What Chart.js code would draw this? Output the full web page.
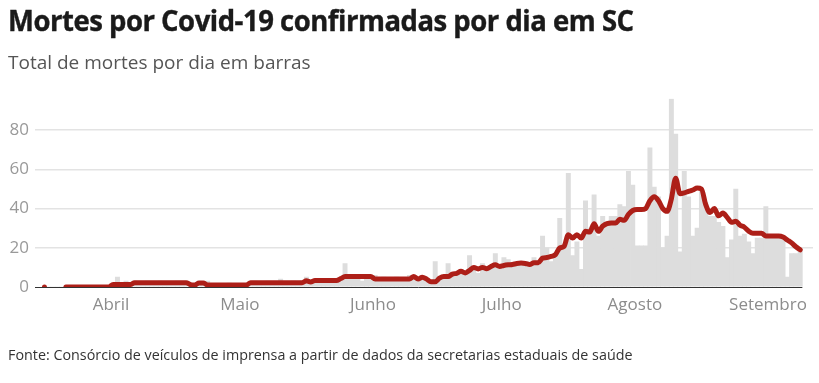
<!DOCTYPE html>
<html>
<head>
<meta charset="utf-8">
<script src="https://cdn.jsdelivr.net/npm/chart.js@4.4.1/dist/chart.umd.min.js"></script>
<style>
  html, body { margin: 0; padding: 0; background: #fff; }
  body { width: 819px; height: 383px; position: relative; overflow: hidden; font-family: "Open Sans", sans-serif; }
  #title { position: absolute; left: 8px; top: 5px; font-size: 29px; line-height: 29px; font-weight: 700; color: #1a1a1a; white-space: nowrap; transform-origin: 0 0; transform: scaleX(0.947); letter-spacing: -0.5px; -webkit-text-stroke: 0.4px #1a1a1a; }
  #subtitle { position: absolute; left: 8px; top: 51px; font-size: 19px; line-height: 22px; color: #555; white-space: nowrap; transform-origin: 0 0; }
  #source { position: absolute; left: 8px; top: 345px; font-size: 15px; line-height: 18px; color: #333; white-space: nowrap; transform-origin: 0 0; transform: scaleX(0.955); }
  #wrap { position: absolute; left: 0; top: 0; width: 819px; height: 383px; }
</style>
</head>
<body>
<div id="wrap"><canvas id="c" width="819" height="383"></canvas></div>
<div id="title">Mortes por Covid-19 confirmadas por dia em SC</div>
<div id="subtitle">Total de mortes por dia em barras</div>
<div id="source">Fonte: Consórcio de veículos de imprensa a partir de dados da secretarias estaduais de saúde</div>
<script>
// ---- data ----
const firstDay = '2020-03-16';
const monthStarts = ['2020-04-01', '2020-05-01', '2020-06-01', '2020-07-01', '2020-08-01', '2020-09-01'];
const monthNames = ['Abril', 'Maio', 'Junho', 'Julho', 'Agosto', 'Setembro'];
const yTicks = [0, 20, 40, 60, 80];

// daily deaths (bars), from 2020-03-16
const deaths = [
  0,0,0,0,0,0,0,0,0,0,0,0,0,0,0,0,
  2,5,1,3,1,3,2,2,3,1,2,3,2,2,1,3,2,2,
  0,1,2,1,3,1,0,1,1,2,0,1,1,1,
  2,3,2,1,3,2,2,4,2,1,3,2,3,
  5,2,3,4,3,2,4,3,4,
  12,4,6,5,3,6,4,
  6,3,5,4,3,5,4,3,6,
  6,4,5,3,2,13,4,5,12,7,
  6,9,8,16,10,7,12,9,11,17,
  10,15,14,12,11,13,13,12,15,11,
  26,20,13,16,35,22,
  58,16,23,9,44,30,47,26,36,33,36,36,42,41,59,52,21,21,21,71,51,46,20,26,
  96,78,18,59,46,26,30,49,43,36,36,33,31,15,24,50,26,27,23,17,25,25,41,25,25,25,25,5,17,17,19
];

// moving average (line), from 2020-03-16
const avg7 = [
  0, null, null, null, null,
  0,0,0,0,0,0,0,0,0,0,0,
  1.3,1.3,1.3,1.3,1.3,
  2.2,2.2,2.2,2.2,2.2,2.2,2.2,2.2,2.2,2.2,2.2,2.2,2.2,
  1.2,1.0,
  2,2,
  1,1,1,1,1,1,1,1,1,1,
  2.2,2.2,2.2,2.2,2.2,2.2,2.2,2.2,2.2,2.2,2.2,2.2,2.2,
  3.2,2.6,
  3.3,3.3,3.3,3.3,3.3,3.3,
  4.3,
  5.3,5.3,5.3,5.3,5.3,5.3,5.3,
  4.1,4.1,4.1,4.1,4.1,4.1,4.1,4.1,4.1,
  5.3,4.1,5,4,2.7,2.7,4.5,5.3,5.3,6.6,
  7,8,7.2,8.5,10,9.2,10,9.3,10.5,11.3,
  10.5,11,11.3,11.5,12,12.2,12,11.5,12.4,12.4,
  14.7,15,15.6,16.5,19.9,20.7,26.7,25,26.7,25,
  28.4,28,32.3,28.4,31,32.3,32.6,32.6,34.5,34,
  37,39,39.5,39.5,40,44,46,44,40,38.6,
  45,55.5,47.6,48,48.8,49.5,50.5,50,42,38,
  40,36.3,37.7,35.5,33,33.5,31.5,30.5,28.5,27.4,
  27.4,27.4,26,26,26,26,25.5,24,22.5,20.5,
  19
];

// ---- helpers ----
const DAY = 86400000;
const epoch = Date.UTC(2020, 2, 1);
function dayNum(s) { const [y, m, d] = s.split('-').map(Number); return (Date.UTC(y, m - 1, d) - epoch) / DAY; }
const d0 = dayNum(firstDay);
// each day drawn in the middle of its own day interval
const barPts = deaths.map((v, i) => ({ x: d0 + i + 0.5, y: v }));
const linePts = avg7.map((v, i) => ({ x: d0 + i + 0.5, y: v }));
const lastX = d0 + deaths.length;

const baseline = {
  id: 'baseline',
  beforeDatasetsDraw(chart) {
    const { ctx, scales: { x, y } } = chart;
    const yy = Math.round(y.getPixelForValue(0)) + 0.5;
    ctx.save();
    ctx.strokeStyle = '#333';
    ctx.lineWidth = 1;
    ctx.beginPath();
    ctx.moveTo(chart.chartArea.left, yy);
    ctx.lineTo(x.getPixelForValue(lastX), yy);
    ctx.stroke();
    ctx.restore();
  }
};

new Chart(document.getElementById('c'), {
  data: {
    datasets: [
      {
        type: 'line', data: linePts, order: 0,
        borderColor: '#ad1f18', borderWidth: 5, borderCapStyle: 'round', borderJoinStyle: 'round',
        cubicInterpolationMode: 'monotone', spanGaps: false,
        pointRadius: (c) => {
          const i = c.dataIndex;
          const prev = i > 0 ? avg7[i - 1] : null, next = i < avg7.length - 1 ? avg7[i + 1] : null;
          return (avg7[i] !== null && prev === null && next === null) ? 2.5 : 0;
        },
        pointBackgroundColor: '#ad1f18', pointBorderWidth: 0, pointHoverRadius: 0
      },
      {
        type: 'bar', data: barPts, order: 1,
        backgroundColor: '#dddddd', borderWidth: 0,
        barPercentage: 1.0, categoryPercentage: 1.0
      }
    ]
  },
  options: {
    responsive: false, animation: false, devicePixelRatio: 1,
    layout: { padding: { left: 0, right: 6, top: 98.8, bottom: 66 } },
    plugins: { legend: { display: false }, tooltip: { enabled: false } },
    scales: {
      x: {
        type: 'linear', min: 13.3, max: 194.48, offset: false,
        afterBuildTicks: (s) => { s.ticks = monthStarts.map(m => ({ value: dayNum(m) })); },
        afterFit: (s) => { s.height = 30; },
        grid: { display: false, drawTicks: false },
        border: { display: false },
        ticks: {
          autoSkip: false, maxRotation: 0, padding: 8, color: '#8c8c8c',
          font: { family: 'Open Sans', size: 17 },
          callback: (v, i) => monthNames[i]
        }
      },
      y: {
        min: 0, max: 96,
        afterBuildTicks: (s) => { s.ticks = yTicks.map(v => ({ value: v })); },
        afterFit: (s) => { s.width = 35; },
        grid: { drawTicks: false, color: (c) => c.tick && c.tick.value === 0 ? 'rgba(0,0,0,0)' : '#e3e3e3', lineWidth: 1.5 },
        border: { display: false },
        ticks: { padding: 6, color: '#999', font: { family: 'Open Sans', size: 17 } }
      }
    }
  },
  plugins: [baseline]
});
</script>
</body>
</html>
